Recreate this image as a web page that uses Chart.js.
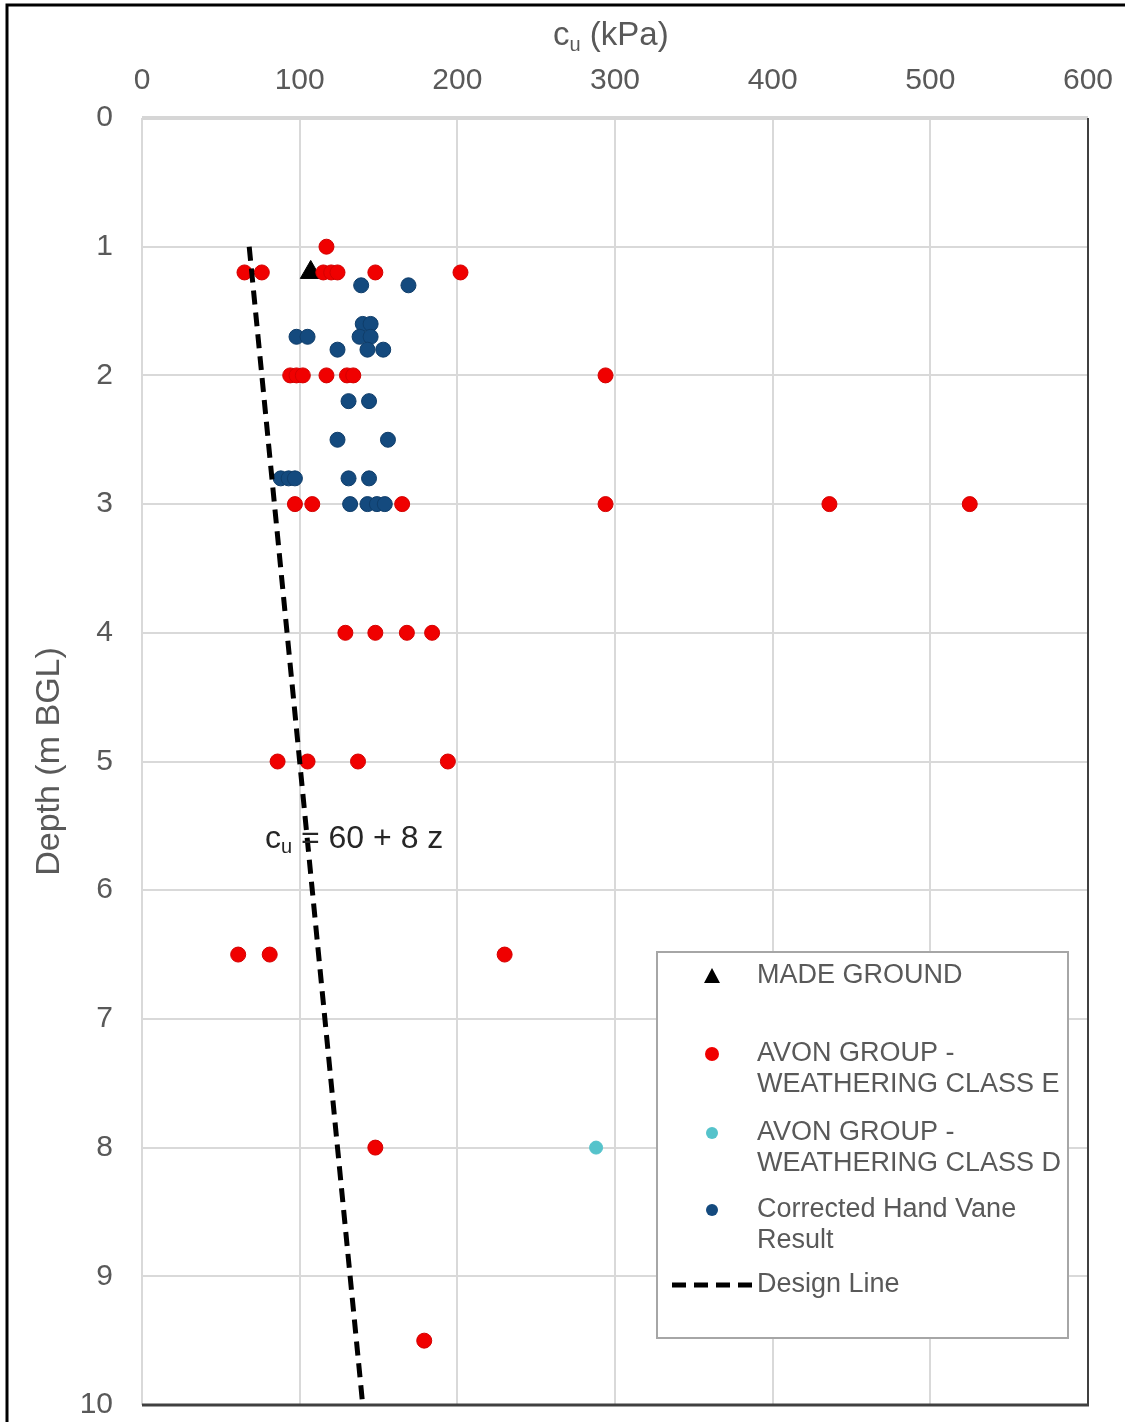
<!DOCTYPE html>
<html>
<head>
<meta charset="utf-8">
<script src="https://cdn.jsdelivr.net/npm/chart.js@4.4.1/dist/chart.umd.min.js"></script>
<style>
  html, body { margin: 0; padding: 0; background: #fff; }
  #wrap { width: 1125px; height: 1422px; }
</style>
</head>
<body>
<div id="wrap"><canvas id="cuChart" width="1125" height="1422"></canvas></div>
<script>
/* ── Data (cu in kPa, depth z in m BGL) ── */
const xTicks = [0, 100, 200, 300, 400, 500, 600];
const yTicks = [0, 1, 2, 3, 4, 5, 6, 7, 8, 9, 10];

const madeGroundCu = [107];
const madeGroundZ  = [1.2];

const avonECu = [117,
  65, 76, 115, 120, 124, 148, 202,
  94, 98, 102, 117, 130, 134, 294,
  97, 108, 165, 294, 436, 525,
  129, 148, 168, 184,
  86, 105, 137, 194,
  61, 81, 230,
  148,
  179];
const avonEZ = [1.0,
  1.2, 1.2, 1.2, 1.2, 1.2, 1.2, 1.2,
  2.0, 2.0, 2.0, 2.0, 2.0, 2.0, 2.0,
  3.0, 3.0, 3.0, 3.0, 3.0, 3.0,
  4.0, 4.0, 4.0, 4.0,
  5.0, 5.0, 5.0, 5.0,
  6.5, 6.5, 6.5,
  8.0,
  9.5];

const avonDCu = [288];
const avonDZ  = [8.0];

const handVaneCu = [139, 169,
  140, 145,
  98, 105, 138, 145,
  124, 143, 153,
  131, 144,
  124, 156,
  88, 93, 97, 131, 144,
  132, 143, 149, 154];
const handVaneZ = [1.3, 1.3,
  1.6, 1.6,
  1.7, 1.7, 1.7, 1.7,
  1.8, 1.8, 1.8,
  2.2, 2.2,
  2.5, 2.5,
  2.8, 2.8, 2.8, 2.8, 2.8,
  3.0, 3.0, 3.0, 3.0];

const designCu = [68, 140];
const designZ  = [1, 10];

const LABEL_GREY = '#595959';
const FONT = "'Liberation Sans', Arial, sans-serif";

const pts = (xs, ys) => xs.map((x, i) => ({ x, y: ys[i] }));

/* ── Decorations: frame, titles, annotation, legend ── */
const deco = {
  id: 'deco',
  beforeDraw(chart) {
    const c = chart.ctx;
    c.save();
    c.fillStyle = '#fff';
    c.fillRect(0, 0, chart.width, chart.height);
    c.restore();
  },
  beforeDatasetsDraw(chart) {
    const { ctx: c, chartArea: a } = chart;
    c.save();
    // top edge (depth 0) a little heavier
    c.strokeStyle = '#d6d6d6';
    c.lineWidth = 4;
    c.beginPath(); c.moveTo(a.left, a.top); c.lineTo(a.right, a.top); c.stroke();
    // right + bottom dark frame
    c.strokeStyle = '#404040';
    c.lineWidth = 2;
    c.beginPath(); c.moveTo(a.right, a.top); c.lineTo(a.right, a.bottom); c.stroke();
    c.lineWidth = 3;
    c.beginPath(); c.moveTo(a.left, a.bottom); c.lineTo(a.right + 1, a.bottom); c.stroke();
    c.restore();
  },
  afterDraw(chart) {
    const { ctx: c, scales: { x, y } } = chart;
    c.save();

    // x axis title  c_u (kPa)
    drawCu(c, 553, 36, 33, LABEL_GREY, ' (kPa)');

    // design line equation
    drawCu(c, x.getPixelForValue(78), y.getPixelForValue(5.6), 32, '#262626', ' = 60 + 8 z');

    // legend box
    const L = { left: 657, top: 952, right: 1068, bottom: 1338 };
    c.fillStyle = '#fff';
    c.fillRect(L.left, L.top, L.right - L.left, L.bottom - L.top);
    c.strokeStyle = '#a6a6a6';
    c.lineWidth = 2;
    c.strokeRect(L.left, L.top, L.right - L.left, L.bottom - L.top);

    const rows = [
      { ds: 0, y: 976 },
      { ds: 1, y: 1054 },
      { ds: 2, y: 1133 },
      { ds: 3, y: 1210 },
      { ds: 4, y: 1285 },
    ];
    c.font = `27px ${FONT}`;
    c.textBaseline = 'middle';
    c.textAlign = 'left';
    rows.forEach(r => {
      const d = chart.data.datasets[r.ds];
      if (d.showLine) {
        c.strokeStyle = d.borderColor;
        c.lineWidth = d.borderWidth;
        c.setLineDash(d.borderDash);
        c.beginPath(); c.moveTo(672, r.y); c.lineTo(752, r.y); c.stroke();
        c.setLineDash([]);
      } else if (d.pointStyle === 'triangle') {
        c.fillStyle = d.backgroundColor;
        c.beginPath();
        c.moveTo(712, r.y - 8); c.lineTo(720, r.y + 7); c.lineTo(704, r.y + 7);
        c.closePath(); c.fill();
      } else {
        c.fillStyle = d.backgroundColor;
        c.beginPath(); c.arc(712, r.y, d.legendRadius, 0, Math.PI * 2); c.fill();
      }
      c.fillStyle = LABEL_GREY;
      const lines = Array.isArray(d.label) ? d.label : [d.label];
      lines.forEach((t, i) => c.fillText(t, 757, r.y + i * 31));
    });

    // outer picture border (top + left)
    c.strokeStyle = '#000';
    c.lineWidth = 3;
    c.beginPath(); c.moveTo(7, chart.height); c.lineTo(7, 5); c.lineTo(chart.width, 5); c.stroke();
    c.restore();
  }
};

// "c" with subscript "u", then the rest
function drawCu(c, x0, yMid, size, color, rest) {
  c.fillStyle = color;
  c.textAlign = 'left';
  c.textBaseline = 'middle';
  c.font = `${size}px ${FONT}`;
  c.fillText('c', x0, yMid);
  let xp = x0 + c.measureText('c').width;
  c.font = `${Math.round(size * 0.62)}px ${FONT}`;
  c.fillText('u', xp, yMid + size * 0.28);
  xp += c.measureText('u').width;
  c.font = `${size}px ${FONT}`;
  c.fillText(rest, xp, yMid);
}

new Chart(document.getElementById('cuChart'), {
  type: 'scatter',
  data: {
    datasets: [
      {
        label: 'MADE GROUND',
        data: pts(madeGroundCu, madeGroundZ),
        pointStyle: 'triangle',
        backgroundColor: '#000',
        borderColor: '#000',
        pointRadius: 12,
        order: 4,
      },
      {
        label: ['AVON GROUP -', 'WEATHERING CLASS E'],
        data: pts(avonECu, avonEZ),
        backgroundColor: '#f00000',
        borderColor: '#d40000',
        borderWidth: 1,
        pointRadius: 7.5,
        legendRadius: 7,
        order: 3,
      },
      {
        label: ['AVON GROUP -', 'WEATHERING CLASS D'],
        data: pts(avonDCu, avonDZ),
        backgroundColor: '#55c3cb',
        borderColor: '#55c3cb',
        pointRadius: 6.5,
        legendRadius: 6,
        order: 2,
      },
      {
        label: ['Corrected Hand Vane', 'Result'],
        data: pts(handVaneCu, handVaneZ),
        backgroundColor: '#144a7e',
        borderColor: '#0f3d6a',
        borderWidth: 1,
        pointRadius: 7.5,
        legendRadius: 6,
        order: 1,
      },
      {
        label: 'Design Line',
        data: pts(designCu, designZ),
        showLine: true,
        borderColor: '#000',
        borderWidth: 5,
        borderDash: [14, 8],
        pointRadius: 0,
        order: 0,
      },
    ],
  },
  options: {
    responsive: false,
    animation: false,
    layout: { padding: { left: 0, top: 0, right: 37, bottom: 17 } },
    plugins: { legend: { display: false }, tooltip: { enabled: false } },
    scales: {
      x: {
        type: 'linear',
        position: 'top',
        min: 0, max: 600,
        afterBuildTicks: s => { s.ticks = xTicks.map(v => ({ value: v })); },
        afterFit: s => { s.height = 118; s.paddingLeft = 0; s.paddingRight = 0; },
        ticks: { color: LABEL_GREY, font: { family: FONT, size: 30 }, padding: 19 },
        grid: { color: '#d9d9d9', lineWidth: 2, drawTicks: false },
        border: { display: false },
      },
      y: {
        type: 'linear',
        reverse: true,
        min: 0, max: 10,
        afterBuildTicks: s => { s.ticks = yTicks.map(v => ({ value: v })); },
        afterFit: s => { s.width = 142; s.paddingTop = 0; s.paddingBottom = 0; },
        ticks: { color: LABEL_GREY, font: { family: FONT, size: 30 }, padding: 29 },
        grid: { color: '#d9d9d9', lineWidth: 2, drawTicks: false },
        border: { display: false },
        title: {
          display: true,
          text: 'Depth (m BGL)',
          color: LABEL_GREY,
          font: { family: FONT, size: 34 },
          padding: { top: 29, bottom: 0 },
        },
      },
    },
  },
  plugins: [deco],
});
</script>
</body>
</html>
